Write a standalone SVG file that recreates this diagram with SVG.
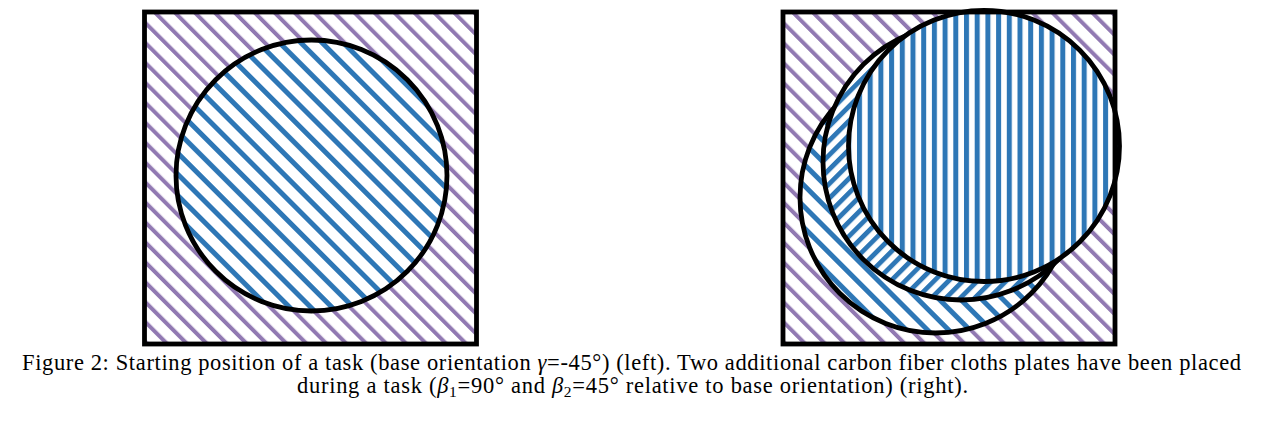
<svg xmlns="http://www.w3.org/2000/svg" width="1264" height="424" viewBox="0 0 1264 424">
<style>
.frame{fill:none;stroke:#000;stroke-width:4.8}
.ring{stroke:#000;stroke-width:4.8}
.cap{font-family:"Liberation Serif","Times New Roman",serif;font-size:22.5px;fill:#000}
.it{font-style:italic}
</style>
<defs>
<pattern id="purple" patternUnits="userSpaceOnUse" width="14.1" height="14.1" patternTransform="rotate(-45)">
<rect width="14.1" height="14.1" fill="#fff"/>
<rect x="0" width="4" height="14.1" fill="#9179b2"/>
</pattern>
<pattern id="blueBack" patternUnits="userSpaceOnUse" width="15" height="15" patternTransform="rotate(-45)">
<rect width="15" height="15" fill="#fff"/>
<rect x="0" width="5" height="15" fill="#2e77b6"/>
</pattern>
<pattern id="blueFwd" patternUnits="userSpaceOnUse" width="10.2" height="10.2" patternTransform="rotate(45)">
<rect width="10.2" height="10.2" fill="#fff"/>
<rect x="0" width="4.8" height="10.2" fill="#2e77b6"/>
</pattern>
<pattern id="blueVert" patternUnits="userSpaceOnUse" width="10.7" height="10.7" x="1">
<rect width="10.7" height="10.7" fill="#fff"/>
<rect x="0" width="5" height="10.7" fill="#2e77b6"/>
</pattern>
</defs>
<rect width="1264" height="424" fill="#fff"/>
<g id="left-panel">
<rect x="144.5" y="12" width="332" height="332" fill="url(#purple)"/>
<circle class="ring" cx="311.5" cy="175.5" r="135.5" fill="url(#blueBack)"/>
<rect class="frame" x="144.5" y="12" width="332" height="332"/>
</g>
<g id="right-panel">
<rect x="783" y="12" width="332" height="332" fill="url(#purple)"/>
<circle id="plate-base" class="ring" cx="935.5" cy="197.5" r="135.5" fill="url(#blueBack)"/>
<circle id="plate-2" class="ring" cx="961" cy="162" r="138" fill="url(#blueFwd)"/>
<circle id="plate-1" class="ring" cx="984" cy="146" r="135.5" fill="url(#blueVert)"/>
<rect class="frame" x="783" y="12" width="332" height="332"/>
</g>
<g id="caption">
<text class="cap" x="22" y="369.5" textLength="1219" lengthAdjust="spacing">Figure 2: Starting position of a task (base orientation <tspan class="it">γ</tspan>=-45°) (left). Two additional carbon fiber cloths plates have been placed</text>
<text class="cap" x="297" y="393" textLength="671" lengthAdjust="spacing">during a task (<tspan class="it">β</tspan><tspan dy="4" font-size="15.5">1</tspan><tspan dy="-4">=90° and </tspan><tspan class="it">β</tspan><tspan dy="4" font-size="15.5">2</tspan><tspan dy="-4">=45° relative to base orientation) (right).</tspan></text>
</g>
</svg>
